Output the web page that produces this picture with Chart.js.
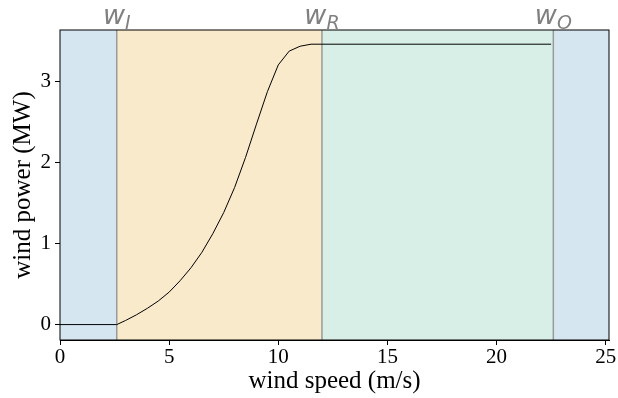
<!DOCTYPE html>
<html lang="en">
<head>
    <meta charset="UTF-8">
    <title>Wind power curve</title>
    <script src="https://cdnjs.cloudflare.com/ajax/libs/Chart.js/4.4.1/chart.umd.min.js"></script>
    <style>
        body { margin: 0; background: white; }
        #wrap { width: 618px; height: 398px; }
    </style>
</head>
<body>
    <div id="wrap"><canvas id="chart"></canvas></div>
    <script>
        // power curve
        const windSpeed = [0, 2.6, 3, 3.5, 4, 4.5, 5, 5.5, 6, 6.5, 7, 7.5, 8, 8.5, 9, 9.5, 10, 10.5, 11, 11.5, 12, 22.5];
        const windPower = [0, 0, 0.05, 0.12, 0.20, 0.29, 0.40, 0.54, 0.70, 0.89, 1.12, 1.38, 1.69, 2.06, 2.47, 2.87, 3.20, 3.37, 3.43, 3.455, 3.455, 3.455];

        // cut-in, rated, cut-out speeds
        const markSpeeds = [2.6, 12, 22.6];
        const markSubs = ['I', 'R', 'O'];

        const xTicks = [0, 5, 10, 15, 20, 25];
        const yTicks = [0, 1, 2, 3];

        const bandColors = ['#d6e6f1', '#faeacc', '#d8efe8', '#d6e6f1'];
        const serif = '"Liberation Serif", "Times New Roman", serif';

        const regions = {
            id: 'regions',
            beforeDatasetsDraw(chart) {
                const { ctx, chartArea: a, scales: { x } } = chart;
                const edges = [a.left, ...markSpeeds.map(v => x.getPixelForValue(v)), a.right];
                ctx.save();
                for (let i = 0; i < bandColors.length; i++) {
                    ctx.fillStyle = bandColors[i];
                    ctx.fillRect(edges[i], a.top, edges[i + 1] - edges[i], a.bottom - a.top);
                }
                ctx.strokeStyle = '#999999';
                ctx.lineWidth = 1.5;
                markSpeeds.forEach(v => {
                    const px = x.getPixelForValue(v);
                    ctx.beginPath();
                    ctx.moveTo(px, a.top);
                    ctx.lineTo(px, a.bottom);
                    ctx.stroke();
                });
                ctx.restore();
            },
            afterDraw(chart) {
                const { ctx, chartArea: a, scales: { x } } = chart;
                ctx.save();
                ctx.strokeStyle = '#000';
                ctx.lineWidth = 1;
                ctx.strokeRect(a.left, a.top, a.right - a.left, a.bottom - a.top);

                ctx.fillStyle = '#808080';
                ctx.textBaseline = 'alphabetic';
                markSpeeds.forEach((v, i) => {
                    const px = x.getPixelForValue(v);
                    ctx.font = 'italic 27px "DejaVu Sans"';
                    const wW = ctx.measureText('w').width;
                    ctx.font = 'italic 19px "DejaVu Sans"';
                    const sW = ctx.measureText(markSubs[i]).width;
                    const start = px - (wW + sW) / 2;
                    ctx.font = 'italic 27px "DejaVu Sans"';
                    ctx.fillText('w', start, 24);
                    ctx.font = 'italic 19px "DejaVu Sans"';
                    ctx.fillText(markSubs[i], start + wW, 29);
                });
                ctx.restore();
            }
        };

        new Chart(document.getElementById('chart'), {
            type: 'line',
            data: {
                datasets: [{
                    data: windSpeed.map((s, i) => ({ x: s, y: windPower[i] })),
                    borderColor: '#000',
                    borderWidth: 1,
                    pointRadius: 0,
                    tension: 0,
                    fill: false
                }]
            },
            options: {
                responsive: true,
                maintainAspectRatio: false,
                animation: false,
                layout: { padding: { top: 30, right: 9, left: 0, bottom: 0 } },
                plugins: { legend: { display: false }, tooltip: { enabled: false } },
                scales: {
                    x: {
                        type: 'linear',
                        min: 0,
                        max: 25.15,
                        afterBuildTicks: s => { s.ticks = xTicks.map(v => ({ value: v })); },
                        afterFit: s => { s.height = 58; },
                        grid: { drawOnChartArea: false, drawTicks: true, tickLength: 5, color: '#000' },
                        border: { display: true, color: '#000' },
                        ticks: { color: '#000', font: { family: serif, size: 21 }, padding: 0, maxRotation: 0 },
                        title: { display: true, text: 'wind speed (m/s)', color: '#000', font: { family: serif, size: 25 }, padding: { top: 0, bottom: 2 } }
                    },
                    y: {
                        min: -0.19,
                        max: 3.63,
                        afterBuildTicks: s => { s.ticks = yTicks.map(v => ({ value: v })); },
                        afterFit: s => { s.width = 60; },
                        grid: { drawOnChartArea: false, drawTicks: true, tickLength: 5, color: '#000' },
                        border: { display: true, color: '#000' },
                        ticks: { color: '#000', font: { family: serif, size: 21 }, padding: 4 },
                        title: { display: true, text: 'wind power (MW)', color: '#000', font: { family: serif, size: 25 }, padding: { top: 8, bottom: 0 } }
                    }
                }
            },
            plugins: [regions]
        });
    </script>
</body>
</html>
